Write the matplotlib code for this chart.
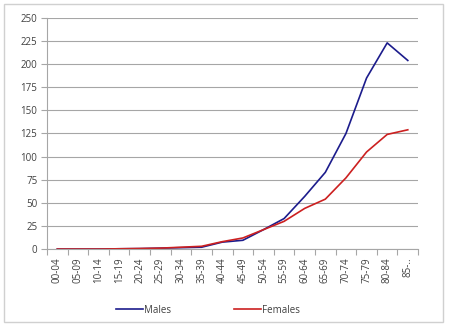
import matplotlib
matplotlib.use("Agg")
import matplotlib.pyplot as plt
from matplotlib.patches import Rectangle

categories = ["00-04", "05-09", "10-14", "15-19", "20-24", "25-29", "30-34", "35-39",
              "40-44", "45-49", "50-54", "55-59", "60-64", "65-69", "70-74", "75-79",
              "80-84", "85-.."]
males = [0, 0, 0, 0.3, 0.5, 1, 1.5, 2, 7.5, 9.5, 21, 33, 57, 83, 125, 185, 223, 204]
females = [0, 0, 0, 0.3, 0.6, 1, 2, 3, 8, 12, 21, 30, 44, 54, 77, 105, 124, 129]
y_ticks = [0, 25, 50, 75, 100, 125, 150, 175, 200, 225, 250]

plt.rcParams["font.family"] = ["Open Sans", "DejaVu Sans"]
text_color = "#404040"
grid_color = "#a6a6a6"

fig = plt.figure(figsize=(4.52, 3.26), dpi=100)
fig.patch.set_facecolor("white")
fig.patches.append(Rectangle((0.009, 0.012), 0.972, 0.975, transform=fig.transFigure,
                             fill=False, edgecolor="#d0d0d0", linewidth=1.0))

ax = fig.add_axes([0.104, 0.236, 0.821, 0.709])
x = list(range(len(categories)))
ax.plot(x, males, color="#1c1c8c", linewidth=1.2, label="Males")
ax.plot(x, females, color="#cc2020", linewidth=1.2, label="Females")

ax.set_xlim(-0.5, len(categories) - 0.5)
ax.set_ylim(0, 250)
ax.set_yticks(y_ticks)
ax.set_yticklabels([str(v) for v in y_ticks], fontsize=7, color=text_color)
ax.yaxis.grid(True, color=grid_color, linewidth=0.8)
ax.set_axisbelow(True)

ax.set_xticks(x)
ax.set_xticklabels(categories, rotation=90, fontsize=7, color=text_color)
ax.tick_params(axis="x", length=0, pad=6)
ax.set_xticks([i - 0.5 for i in range(len(categories) + 1)], minor=True)
ax.tick_params(axis="x", which="minor", length=4, color=grid_color, width=0.8)
ax.tick_params(axis="y", length=4, color=grid_color, width=0.8, pad=3)

for side in ("top", "right"):
    ax.spines[side].set_visible(False)
for side in ("left", "bottom"):
    ax.spines[side].set_color(grid_color)
    ax.spines[side].set_linewidth(0.8)

fig.legend(loc="center", bbox_to_anchor=(0.46, 0.049), ncol=2, frameon=False,
           fontsize=7, handlelength=2.8, handletextpad=0.1, columnspacing=6.5,
           labelcolor=text_color)

fig.savefig("out.png", dpi=100)
